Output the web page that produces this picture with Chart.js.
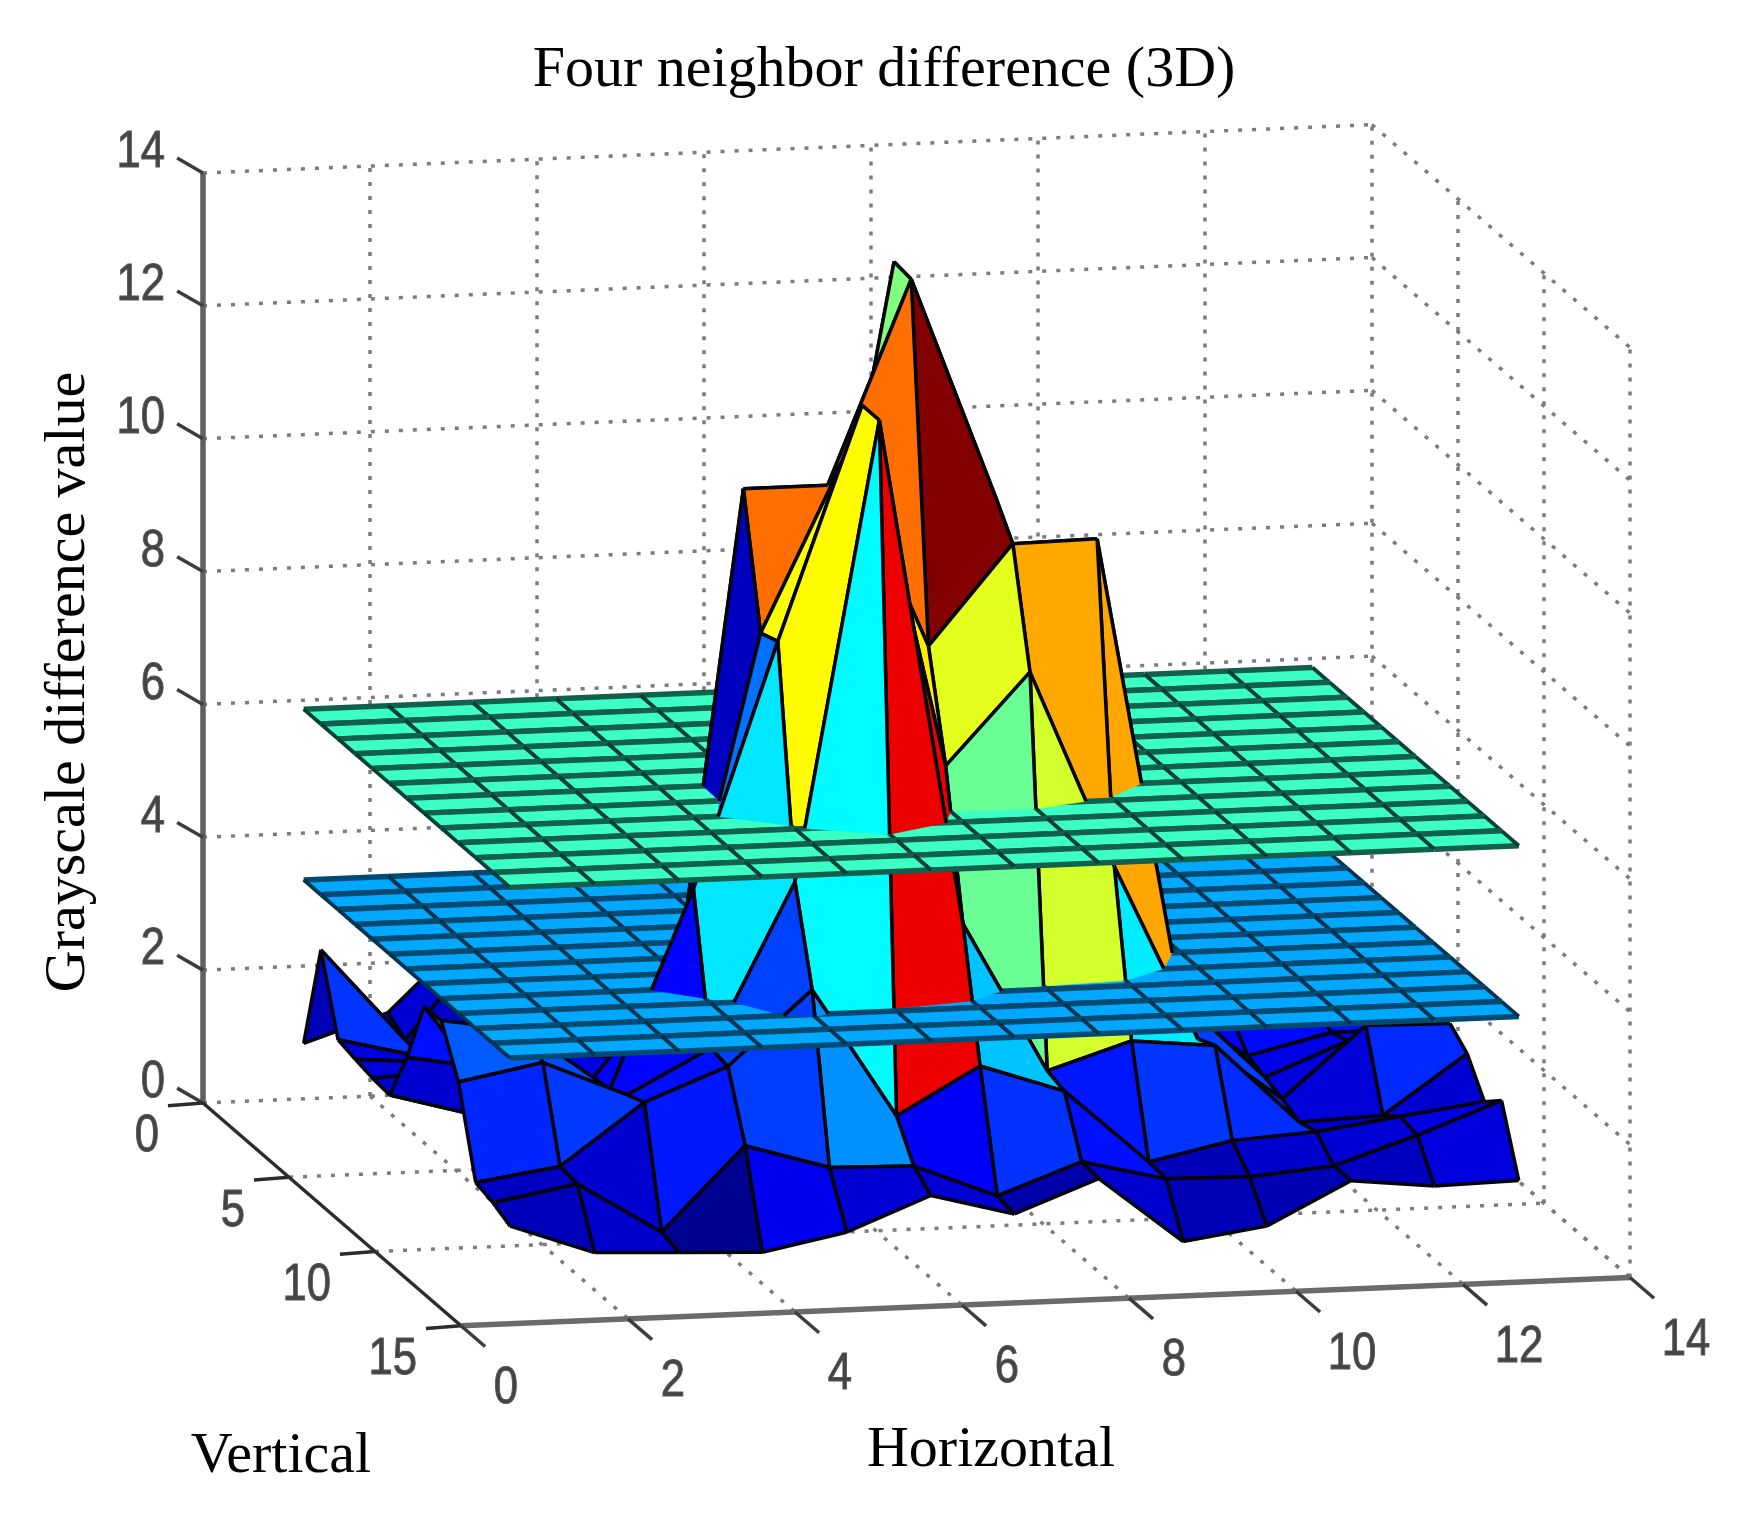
<!DOCTYPE html>
<html>
<head>
<meta charset="utf-8">
<title>Four neighbor difference (3D)</title>
<script src="https://cdn.jsdelivr.net/npm/chart.js@4/dist/chart.umd.min.js"></script>
<style>
    html, body { margin: 0; padding: 0; background: #fff; }
    canvas { display: block; }
</style>
</head>
<body>
<canvas id="chart" width="1747" height="1518"></canvas>
<script>
// grayscale difference, one row per vertical position, left to right = horizontal 1..13
const row1  = [1.07, 1.48, 2.67, 2.2, 1.8, 1.6, 1.5, 1.4, 1.5, 1.6, 1.7, 1.8, 1.9];
const row2  = [2.7, 1.29, 2.75, 2.1, 1.6, 1.5, 1.4, 1.4, 1.6, 1.7, 1.9, 2.0, 2.1];
const row3  = [1.57, 1.26, 2.0, 1.9, 1.7, 1.6, 1.5, 1.5, 1.6, 1.8, 1.9, 2.1, 2.2];
const row4  = [1.5, 1.4, 1.8, 1.7, 1.6, 1.7, 1.6, 1.6, 1.8, 1.9, 2.0, 2.2, 2.3];
const row5  = [1.44, 1.5, 1.7, 1.6, 1.5, 1.8, 1.9, 1.7, 1.8, 2.0, 2.1, 2.3, 2.2];
const row6  = [1.41, 1.06, 1.5, 1.4, 1.5, 7.0, 13.64, 2.0, 1.9, 2.0, 2.1, 2.2, 2.1];
const row7  = [2.2, 1.98, 1.5, 1.2, 10.55, 10.55, 13.6, 10.27, 2.5, 2.5, 1.7, 2.0, 2.0];
const row8  = [3.19, 1.5, 2.0, 3.5, 8.6, 11.2, 8.3, 9.79, 9.81, 2.83, 1.6, 2.1, 2.1];
const row9  = [3.2, 3.0, 2.06, 5.02, 8.7, 12.2, 6.72, 8.08, 5.1, 2.45, 1.5, 2.55, 2.53];
const row10 = [2.5, 2.74, 2.2, 2.85, 5.3, 12.2, 4.57, 2.3, 2.7, 2.58, 1.37, 1.42, 2.3];
const row11 = [1.21, 1.4, 2.31, 2.8, 3.9, 1.95, 2.65, 2.22, 1.1, 1.37, 1.45, 1.63, 1.8];
const row12 = [1.13, 1.36, 0.58, 1.83, 1.45, 1.42, 0.92, 1.38, 1.07, 1.05, 1.16, 1.57, 2.04];
const row13 = [1.0, 0.55, 0.5, 0.45, 0.7, 1.2, 0.87, 1.35, 0.35, 0.53, 1.16, 1.03, 1.06];
const surface = [row1, row2, row3, row4, row5, row6, row7, row8, row9, row10, row11, row12, row13];

const gridHorizontal = [1, 2.01, 3.02, 4.02, 5.03, 6.04, 7.04, 8.05, 9.06, 10.06, 11.07, 12.07, 13.08];
const gridVertical = [1, 2, 3, 4, 5, 6, 7, 8, 9, 10, 11, 12, 13];

const upperPlane = 6.1;
const lowerPlane = 3.53;
const upperPlaneColorValue = 6.1;
const lowerPlaneColorValue = 4.2;
// this facet is coloured differently from its corner height
const facetColorValues = { '6,8': 8.9 };

const horizontalTicks = [0, 2, 4, 6, 8, 10, 12, 14];
const verticalTicks = [0, 5, 10, 15];
const heightTicks = [0, 2, 4, 6, 8, 10, 12, 14];

// orthographic view
function projectX(h, v) { return 203 + 83.5 * h + 17.2 * v; }
function projectY(h, v, z) { return 1103 - 3.45 * h + 14.85 * v - 66.43 * z; }
function toPoint(p) { return { x: projectX(p.h, p.v), y: projectY(p.h, p.v, p.z) }; }

const allValues = surface.flat();
const colorMin = Math.min(...allValues);
const colorMax = Math.max(...allValues);

function jet(value) {
    const t = (value - colorMin) / (colorMax - colorMin);
    const ramp = c => Math.round(255 * Math.max(0, Math.min(1, 1.5 - Math.abs(4 * t - c))));
    return `rgb(${ramp(3)}, ${ramp(2)}, ${ramp(1)})`;
}

const datasets = [];

function addLine(points, color, width, dash) {
    datasets.push({
        data: points.map(toPoint),
        showLine: true,
        fill: false,
        borderColor: color,
        borderWidth: width,
        borderDash: dash || [],
        pointRadius: 0,
        clip: false
    });
}

function addPolygon(corners, color, edgeColor, width) {
    const points = corners.map(toPoint);
    points.push(points[0]);
    datasets.push({
        data: points,
        showLine: true,
        fill: 'shape',
        backgroundColor: color,
        borderColor: edgeColor,
        borderWidth: width,
        borderJoinStyle: 'round',
        pointRadius: 0,
        clip: false
    });
}

// dotted box
const dots = [4, 10];
const dotColor = '#7c7c7c';
const dotWidth = 3.5;
heightTicks.forEach(z => {
    addLine([{ h: 0, v: 0, z }, { h: 14, v: 0, z }], dotColor, dotWidth, dots);
    addLine([{ h: 14, v: 0, z }, { h: 14, v: 15, z }], dotColor, dotWidth, dots);
});
horizontalTicks.forEach(h => {
    if (h > 0) addLine([{ h, v: 0, z: 0 }, { h, v: 0, z: 14 }], dotColor, dotWidth, dots);
    if (h > 0) addLine([{ h, v: 0, z: 0 }, { h, v: 15, z: 0 }], dotColor, dotWidth, dots);
});
verticalTicks.forEach(v => {
    if (v > 0) addLine([{ h: 14, v, z: 0 }, { h: 14, v, z: 14 }], dotColor, dotWidth, dots);
    if (v > 0 && v < 15) addLine([{ h: 0, v, z: 0 }, { h: 14, v, z: 0 }], dotColor, dotWidth, dots);
});

// solid axes
addLine([{ h: 0, v: 0, z: 0 }, { h: 0, v: 0, z: 14 }], '#606060', 5.5);
addLine([{ h: 0, v: 0, z: 0 }, { h: 0, v: 15, z: 0 }], '#2c2c2c', 3.5);
addLine([{ h: 0, v: 15, z: 0 }, { h: 14, v: 15, z: 0 }], '#6a6a6a', 5.5);
heightTicks.forEach(z => addLine([{ h: 0, v: 0, z }, { h: -0.31, v: 0, z: z + 0.24 }], '#3c3c3c', 3.5));
verticalTicks.forEach(v => addLine([{ h: 0, v, z: 0 }, { h: -0.42, v, z: -0.02 }], '#2c2c2c', 3.5));
horizontalTicks.forEach(h => addLine([{ h, v: 15, z: 0 }, { h, v: 16.4, z: 0 }], '#3c3c3c', 3.5));

// keep the part of a quad that lies between two heights
function clipAt(poly, level, keepAbove) {
    const out = [];
    poly.forEach((a, i) => {
        const b = poly[(i + 1) % poly.length];
        const aIn = keepAbove ? a.z >= level : a.z <= level;
        const bIn = keepAbove ? b.z >= level : b.z <= level;
        if (aIn) out.push(a);
        if (aIn !== bIn) {
            const s = (level - a.z) / (b.z - a.z);
            out.push({ h: a.h + s * (b.h - a.h), v: a.v + s * (b.v - a.v), z: level });
        }
    });
    return out;
}

function clipBand(poly, lo, hi) {
    let out = poly;
    if (lo !== null) out = clipAt(out, lo, true);
    if (hi !== null && out.length) out = clipAt(out, hi, false);
    return out;
}

function drawBand(corners, color, lo, hi) {
    const piece = clipBand(corners, lo, hi);
    if (piece.length < 3) return;
    addPolygon(piece, color, color, 0.6);
    corners.forEach((a, i) => {
        const b = corners[(i + 1) % 4];
        let s0 = 0, s1 = 1;
        [[lo, true], [hi, false]].forEach(([level, above]) => {
            if (level === null || a.z === b.z) return;
            const s = (level - a.z) / (b.z - a.z);
            const rising = b.z > a.z;
            if (above === rising) s0 = Math.max(s0, s); else s1 = Math.min(s1, s);
        });
        if (s1 <= s0) return;
        const at = s => ({ h: a.h + s * (b.h - a.h), v: a.v + s * (b.v - a.v), z: a.z + s * (b.z - a.z) });
        if (level0Out(a, b, lo, hi)) return;
        addLine([at(s0), at(s1)], '#04040c', 3.5);
    });
}

// an edge lying flat outside the band has nothing to draw
function level0Out(a, b, lo, hi) {
    if (a.z !== b.z) return false;
    return (lo !== null && a.z < lo) || (hi !== null && a.z > hi);
}

function planeCell(h0, h1, v0, v1, z, colorValue, rowEdge, crossEdge) {
    const nw = { h: h0, v: v0, z }, ne = { h: h1, v: v0, z };
    const se = { h: h1, v: v1, z }, sw = { h: h0, v: v1, z };
    const fill = jet(colorValue);
    addPolygon([nw, ne, se, sw], fill, fill, 0.5);
    addLine([nw, ne], rowEdge, 5.5);
    addLine([sw, se], rowEdge, 5.5);
    addLine([nw, sw], crossEdge, 3.8);
    addLine([ne, se], crossEdge, 3.8);
}

// back to front, one column of the grid at a time, bottom to top inside a column
for (let j = 0; j < gridVertical.length - 1; j++) {
    for (let i = gridHorizontal.length - 2; i >= 0; i--) {
        const h0 = gridHorizontal[i], h1 = gridHorizontal[i + 1];
        const v0 = gridVertical[j], v1 = gridVertical[j + 1];
        const z = surface[j];
        const zNext = surface[j + 1];
        const corners = [
            { h: h0, v: v0, z: z[i] },
            { h: h1, v: v0, z: z[i + 1] },
            { h: h1, v: v1, z: zNext[i + 1] },
            { h: h0, v: v1, z: zNext[i] }
        ];
        const key = (i + 1) + ',' + (j + 1);
        const colorValue = key in facetColorValues ? facetColorValues[key] : z[i];
        const color = jet(colorValue);
        drawBand(corners, color, null, lowerPlane);
        planeCell(h0, h1, v0, v1, lowerPlane, lowerPlaneColorValue, '#034a72', '#02324c');
        drawBand(corners, color, lowerPlane, upperPlane);
        planeCell(h0, h1, v0, v1, upperPlane, upperPlaneColorValue, '#125f4b', '#063f35');
        drawBand(corners, color, upperPlane, null);
    }
}

// text is placed through the same scales as the marks
const axisText = {
    id: 'axisText',
    afterDatasetsDraw(chart) {
        const ctx = chart.ctx;
        const px = chart.scales.x;
        const py = chart.scales.y;

        function tickLabel(text, x, y, align) {
            ctx.save();
            ctx.translate(px.getPixelForValue(x), py.getPixelForValue(y));
            ctx.scale(0.84, 1);
            ctx.font = '52px "Liberation Sans"';
            ctx.fillStyle = '#444';
            ctx.strokeStyle = '#555';
            ctx.lineWidth = 1;
            ctx.textAlign = align;
            ctx.textBaseline = 'middle';
            ctx.fillText(text, 0, 0);
            ctx.strokeText(text, 0, 0);
            ctx.restore();
        }

        function serifLabel(text, x, y, size, rotation) {
            ctx.save();
            ctx.translate(px.getPixelForValue(x), py.getPixelForValue(y));
            ctx.rotate(rotation || 0);
            ctx.font = size + 'px "Liberation Serif"';
            ctx.fillStyle = '#000';
            ctx.textAlign = 'center';
            ctx.textBaseline = 'middle';
            ctx.fillText(text, 0, 0);
            ctx.restore();
        }

        heightTicks.forEach(z => tickLabel(String(z), 165, projectY(0, 0, z) - 20, 'right'));
        verticalTicks.forEach(v => tickLabel(String(v), projectX(0, v) - 44, projectY(0, v, 0) + 34, 'right'));
        horizontalTicks.forEach(h => tickLabel(String(h), projectX(h, 15) + (h < 10 ? 45 : 56), projectY(h, 15, 0) + 63, 'center'));

        serifLabel('Four neighbor difference (3D)', 884, 71, 58);
        serifLabel('Grayscale difference value', 69, 682, 58, -Math.PI / 2);
        serifLabel('Vertical', 281, 1457, 58);
        serifLabel('Horizontal', 991, 1451, 58);
    }
};

new Chart(document.getElementById('chart'), {
    type: 'scatter',
    // first dataset ends up on top, so hand them over reversed
    data: { datasets: datasets.reverse() },
    options: {
        responsive: false,
        animation: false,
        layout: { padding: 0 },
        plugins: {
            legend: { display: false },
            title: { display: false },
            tooltip: { enabled: false }
        },
        events: [],
        scales: {
            x: { type: 'linear', display: false, min: 0, max: 1747 },
            y: { type: 'linear', display: false, min: 0, max: 1518, reverse: true }
        }
    },
    plugins: [axisText]
});
</script>
</body>
</html>
